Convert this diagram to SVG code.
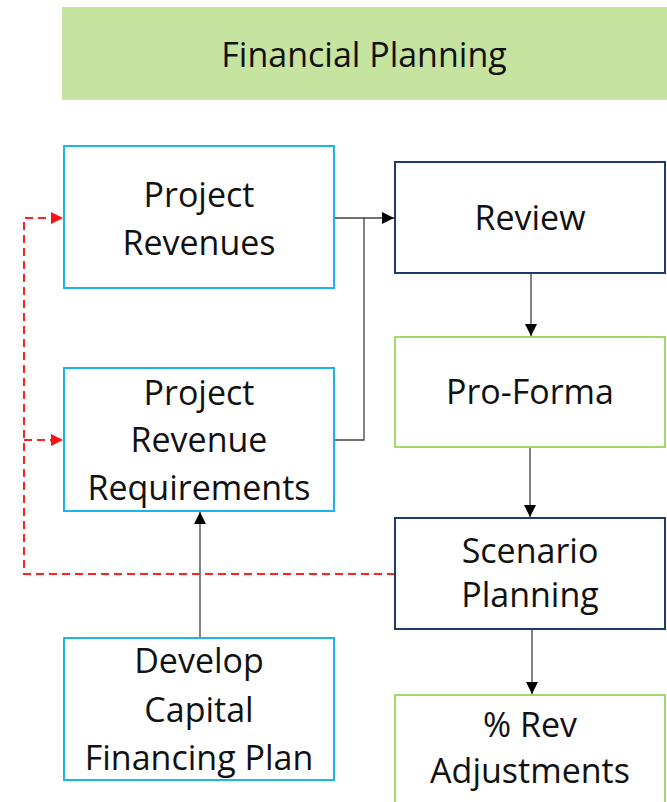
<svg xmlns="http://www.w3.org/2000/svg" width="667" height="802" viewBox="0 0 667 802">
<style>
.t{font-family:"Open Sans","Noto Sans","Liberation Sans",sans-serif;font-size:34px;fill:#111;text-anchor:middle}
.blue{fill:#fff;stroke:#1cb5ea;stroke-width:2}
.navy{fill:#fff;stroke:#1f3a6e;stroke-width:2}
.green{fill:#fff;stroke:#a3d86b;stroke-width:2}
.c{fill:none;stroke:#404040;stroke-width:1.3}
.r{fill:none;stroke:#ff2020;stroke-width:2;stroke-dasharray:8,5}
</style>
<defs>
<marker id="a" viewBox="0 0 10 10" refX="10" refY="5" markerWidth="12" markerHeight="12" markerUnits="userSpaceOnUse" orient="auto"><path d="M0,0L10,5L0,10z" fill="#000"/></marker>
<marker id="ar" viewBox="0 0 10 10" refX="10" refY="5" markerWidth="12" markerHeight="12" markerUnits="userSpaceOnUse" orient="auto"><path d="M0,0L10,5L0,10z" fill="#ff1010"/></marker>
</defs>
<rect width="667" height="802" fill="#fff"/>
<g id="title"><rect x="62" y="7" width="605" height="93" fill="#c7e3a0"/><text class="t" x="364" y="67">Financial Planning</text></g>
<g id="connectors">
<path class="c" d="M334,218H394" marker-end="url(#a)"/>
<path class="c" d="M334,440H364V218"/>
<path class="c" d="M531,273V336" marker-end="url(#a)"/>
<path class="c" d="M530,447V517" marker-end="url(#a)"/>
<path class="c" d="M532,629V694" marker-end="url(#a)"/>
<path class="c" d="M200,638V512" marker-end="url(#a)"/>
<path class="r" d="M395,574H24V218H63" marker-end="url(#ar)"/>
<path class="r" d="M24,440H63" marker-end="url(#ar)"/>
</g>
<g id="project-revenues"><rect class="blue" x="64" y="146" width="270" height="142"/><text class="t" x="199" y="207">Project</text><text class="t" x="199" y="255">Revenues</text></g>
<g id="project-revenue-requirements"><rect class="blue" x="64" y="368" width="270" height="143"/><text class="t" x="199" y="405">Project</text><text class="t" x="199" y="452">Revenue</text><text class="t" x="199" y="500">Requirements</text></g>
<g id="develop-capital"><rect class="blue" x="64" y="638" width="270" height="142"/><text class="t" x="199" y="673">Develop</text><text class="t" x="199" y="722">Capital</text><text class="t" x="199" y="770">Financing Plan</text></g>
<g id="review"><rect class="navy" x="395" y="162" width="270" height="111"/><text class="t" x="530" y="230">Review</text></g>
<g id="pro-forma"><rect class="green" x="395" y="337" width="270" height="110"/><text class="t" x="530" y="404">Pro-Forma</text></g>
<g id="scenario-planning"><rect class="navy" x="395" y="518" width="270" height="111"/><text class="t" x="530" y="563">Scenario</text><text class="t" x="530" y="607">Planning</text></g>
<g id="rev-adjustments"><rect class="green" x="395" y="695" width="270" height="130"/><text class="t" x="530" y="737">% Rev</text><text class="t" x="530" y="783">Adjustments</text></g>
</svg>
